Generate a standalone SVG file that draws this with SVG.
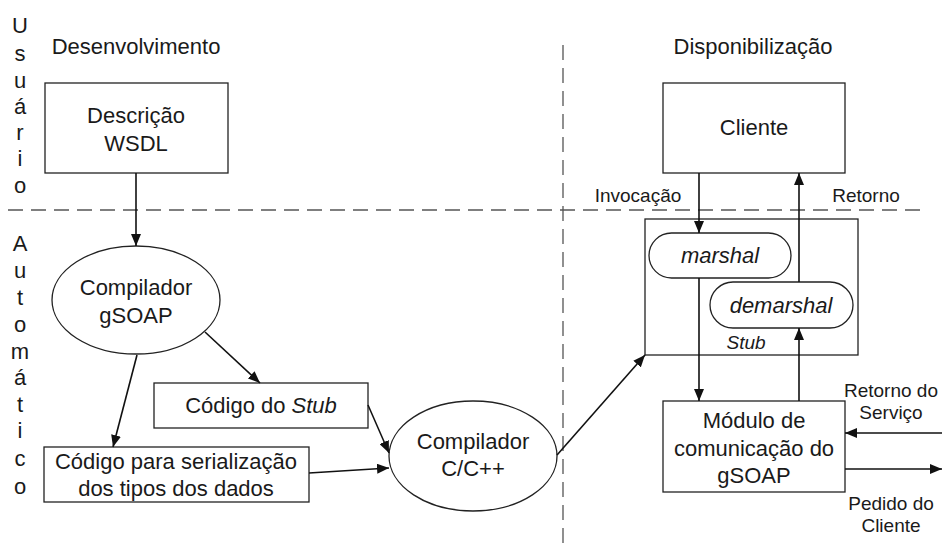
<svg xmlns="http://www.w3.org/2000/svg" width="944" height="545" viewBox="0 0 944 545">
<style>
text{font-family:"Liberation Sans",Arial,sans-serif;fill:#1a1a1a;text-anchor:middle;dominant-baseline:central}
.m{font-size:22px}
.s{font-size:19px}
.i{font-style:italic}
.box{fill:#fff;stroke:#222;stroke-width:1.3}
.ln{fill:none;stroke:#111;stroke-width:1.6}
.dash{fill:none;stroke:#555;stroke-width:1.3;stroke-dasharray:15 8}
</style>
<defs>
<marker id="ah" viewBox="0 0 12 10" refX="12" refY="5" markerWidth="12" markerHeight="10" markerUnits="userSpaceOnUse" orient="auto">
<path d="M0,0 L12,5 L0,10 z" fill="#111"/>
</marker>
</defs>
<rect width="944" height="545" fill="#fff"/>
<g id="guides">
<line class="dash" x1="8" y1="210" x2="920" y2="210"/>
<line class="dash" x1="563" y1="45" x2="563" y2="545"/>
</g>
<g id="labels">
<text class="m" x="20" y="25">U</text>
<text class="m" x="20" y="53">s</text>
<text class="m" x="20" y="80">u</text>
<text class="m" x="20" y="106">á</text>
<text class="m" x="20" y="132">r</text>
<text class="m" x="20" y="158">i</text>
<text class="m" x="20" y="185">o</text>
<text class="m" x="20" y="243">A</text>
<text class="m" x="20" y="270">u</text>
<text class="m" x="20" y="297">t</text>
<text class="m" x="20" y="324">o</text>
<text class="m" x="20" y="351">m</text>
<text class="m" x="20" y="377">á</text>
<text class="m" x="20" y="404">t</text>
<text class="m" x="20" y="430">i</text>
<text class="m" x="20" y="458">c</text>
<text class="m" x="20" y="486">o</text>
<text class="m" x="136" y="46">Desenvolvimento</text>
<text class="m" x="753" y="46">Disponibilização</text>
<text class="s" x="638" y="195">Invocação</text>
<text class="s" x="866" y="195">Retorno</text>
<text class="s" x="891" y="390">Retorno do</text>
<text class="s" x="891" y="412">Serviço</text>
<text class="s" x="891" y="503">Pedido do</text>
<text class="s" x="891" y="525">Cliente</text>
</g>
<g id="descricao">
<rect class="box" x="45" y="83" width="183" height="90"/>
<text class="m" x="136" y="115">Descrição</text>
<text class="m" x="136" y="143">WSDL</text>
</g>
<g id="gsoap">
<ellipse class="box" cx="136" cy="300" rx="84" ry="54"/>
<text class="m" x="136" y="287">Compilador</text>
<text class="m" x="136" y="315">gSOAP</text>
</g>
<g id="codstub">
<rect class="box" x="154" y="383" width="214" height="45"/>
<text class="m" x="261" y="405">Código do <tspan class="i">Stub</tspan></text>
</g>
<g id="serial">
<rect class="box" x="44" y="447" width="265" height="55"/>
<text class="m" x="176" y="461">Código para serialização</text>
<text class="m" x="176" y="488">dos tipos dos dados</text>
</g>
<g id="ccpp">
<ellipse class="box" cx="473" cy="456" rx="84" ry="55"/>
<text class="m" x="473" y="441">Compilador</text>
<text class="m" x="473" y="468">C/C++</text>
</g>
<g id="cliente">
<rect class="box" x="663" y="83" width="182" height="90"/>
<text class="m" x="754" y="127">Cliente</text>
</g>
<g id="stub">
<rect class="box" x="645" y="219" width="213" height="136"/>
<text class="s i" x="746" y="342">Stub</text>
</g>
<g id="marshal">
<rect class="box" x="649" y="233" width="142" height="45" rx="22.5"/>
<text class="m i" x="720" y="255">marshal</text>
</g>
<g id="demarshal">
<rect class="box" x="710" y="282" width="143" height="46" rx="23"/>
<text class="m i" x="781" y="305">demarshal</text>
</g>
<g id="modulo">
<rect class="box" x="663" y="401" width="182" height="91"/>
<text class="m" x="754" y="420">Módulo de</text>
<text class="m" x="754" y="448">comunicação do</text>
<text class="m" x="754" y="475">gSOAP</text>
</g>
<g id="connectors">
<line class="ln" x1="136" y1="173" x2="136" y2="246" marker-end="url(#ah)"/>
<line class="ln" x1="205" y1="332" x2="260" y2="383" marker-end="url(#ah)"/>
<line class="ln" x1="137" y1="355" x2="113" y2="447" marker-end="url(#ah)"/>
<line class="ln" x1="368" y1="405" x2="389" y2="453" marker-end="url(#ah)"/>
<line class="ln" x1="309" y1="473" x2="389" y2="468" marker-end="url(#ah)"/>
<line class="ln" x1="557" y1="455" x2="645" y2="355" marker-end="url(#ah)"/>
<line class="ln" x1="699" y1="173" x2="699" y2="233" marker-end="url(#ah)"/>
<line class="ln" x1="799" y1="282" x2="799" y2="173" marker-end="url(#ah)"/>
<line class="ln" x1="699" y1="278" x2="699" y2="401" marker-end="url(#ah)"/>
<line class="ln" x1="799" y1="401" x2="799" y2="328" marker-end="url(#ah)"/>
<line class="ln" x1="942" y1="433" x2="845" y2="433" marker-end="url(#ah)"/>
<line class="ln" x1="845" y1="469" x2="942" y2="469" marker-end="url(#ah)"/>
</g>
</svg>
